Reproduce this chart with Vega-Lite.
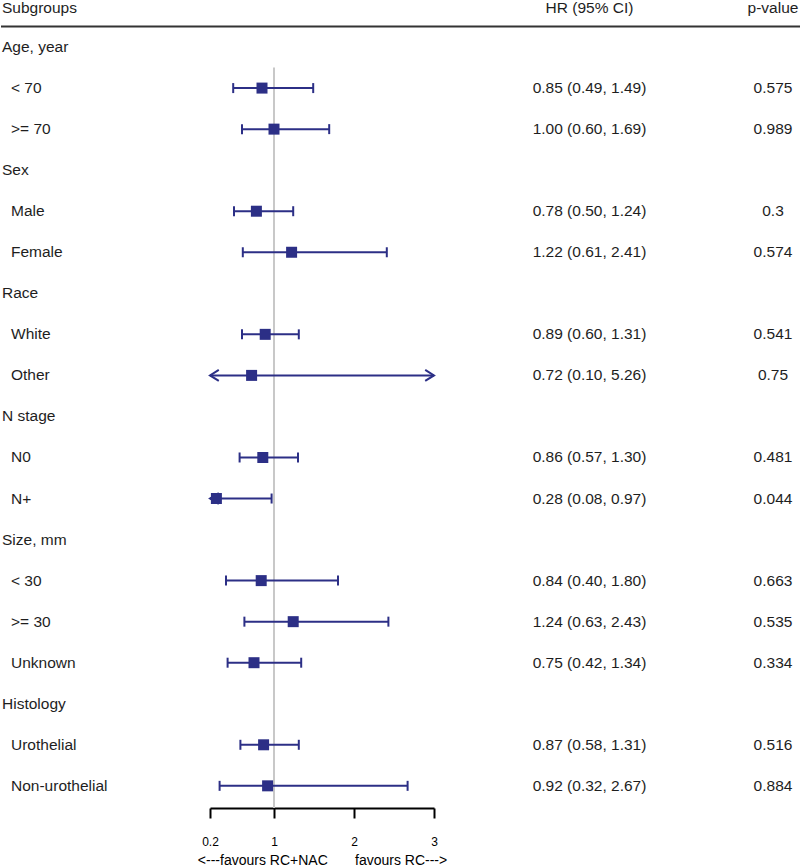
{
  "$schema": "https://vega.github.io/schema/vega-lite/v6.json",
  "padding": 0,
  "background": "white",
  "spacing": 0,
  "bounds": "flush",
  "config": {
    "view": {"stroke": null},
    "font": "Liberation Sans",
    "text": {"fontSize": 15.5, "color": "#1e1e1e"}
  },
  "datasets": {
    "rows": [
      {"row": 0, "label": "Subgroups", "level": "header", "hrci": "HR (95% CI)", "p": "p-value"},
      {"row": 1, "label": "Age, year", "level": "group"},
      {"row": 2, "label": "< 70", "level": "item", "hr": 0.85, "lo": 0.49, "hi": 1.49, "p": "0.575"},
      {"row": 3, "label": ">= 70", "level": "item", "hr": 1.00, "lo": 0.60, "hi": 1.69, "p": "0.989"},
      {"row": 4, "label": "Sex", "level": "group"},
      {"row": 5, "label": "Male", "level": "item", "hr": 0.78, "lo": 0.50, "hi": 1.24, "p": "0.3"},
      {"row": 6, "label": "Female", "level": "item", "hr": 1.22, "lo": 0.61, "hi": 2.41, "p": "0.574"},
      {"row": 7, "label": "Race", "level": "group"},
      {"row": 8, "label": "White", "level": "item", "hr": 0.89, "lo": 0.60, "hi": 1.31, "p": "0.541"},
      {"row": 9, "label": "Other", "level": "item", "hr": 0.72, "lo": 0.10, "hi": 5.26, "p": "0.75"},
      {"row": 10, "label": "N stage", "level": "group"},
      {"row": 11, "label": "N0", "level": "item", "hr": 0.86, "lo": 0.57, "hi": 1.30, "p": "0.481"},
      {"row": 12, "label": "N+", "level": "item", "hr": 0.28, "lo": 0.08, "hi": 0.97, "p": "0.044"},
      {"row": 13, "label": "Size, mm", "level": "group"},
      {"row": 14, "label": "< 30", "level": "item", "hr": 0.84, "lo": 0.40, "hi": 1.80, "p": "0.663"},
      {"row": 15, "label": ">= 30", "level": "item", "hr": 1.24, "lo": 0.63, "hi": 2.43, "p": "0.535"},
      {"row": 16, "label": "Unknown", "level": "item", "hr": 0.75, "lo": 0.42, "hi": 1.34, "p": "0.334"},
      {"row": 17, "label": "Histology", "level": "group"},
      {"row": 18, "label": "Urothelial", "level": "item", "hr": 0.87, "lo": 0.58, "hi": 1.31, "p": "0.516"},
      {"row": 19, "label": "Non-urothelial", "level": "item", "hr": 0.92, "lo": 0.32, "hi": 2.67, "p": "0.884"}
    ]
  },
  "hconcat": [
    {
      "width": 209,
      "height": 808,
      "data": {"name": "rows"},
      "encoding": {
        "y": {"field": "row", "type": "quantitative", "scale": {"domain": [-0.146, 19.54], "reverse": true, "nice": false, "zero": false}, "axis": null}
      },
      "layer": [
        {
          "transform": [{"filter": "datum.level === 'header'"}],
          "mark": {"type": "text", "align": "left", "baseline": "middle", "x": 0, "dx": 1, "dy": 2},
          "encoding": {"text": {"field": "label"}}
        },
        {
          "transform": [{"filter": "datum.level === 'group'"}],
          "mark": {"type": "text", "align": "left", "baseline": "middle", "x": 0, "dx": 1},
          "encoding": {"text": {"field": "label"}}
        },
        {
          "transform": [{"filter": "datum.level === 'item'"}],
          "mark": {"type": "text", "align": "left", "baseline": "middle", "x": 0, "dx": 10},
          "encoding": {"text": {"field": "label"}}
        },
        {
          "transform": [{"filter": "datum.level === 'header'"}],
          "mark": {"type": "rule", "color": "#333333", "strokeWidth": 2},
          "encoding": {"y": {"datum": 0.5, "type": "quantitative"}}
        }
      ]
    },
    {
      "width": 224,
      "height": 808,
      "data": {"name": "rows"},
      "encoding": {
        "y": {"field": "row", "type": "quantitative", "scale": {"domain": [-0.146, 19.54], "reverse": true, "nice": false, "zero": false}, "axis": null}
      },
      "layer": [
        {
          "transform": [{"filter": "datum.level === 'header'"}],
          "mark": {"type": "rule", "color": "#c8c8c8", "strokeWidth": 2},
          "encoding": {
            "x": {"datum": 1, "type": "quantitative", "scale": {"domain": [0.2, 3], "clamp": true, "nice": false, "zero": false},
              "axis": {
                "values": [0.2, 1, 2, 3],
                "format": "~g",
                "title": "<---favours RC+NAC\u00a0\u00a0\u00a0\u00a0\u00a0\u00a0\u00a0favours RC--->",
                "grid": false,
                "labelFlush": false,
                "domainColor": "black",
                "domainWidth": 2,
                "tickColor": "black",
                "tickWidth": 2,
                "tickSize": 10,
                "labelFontSize": 12,
                "labelPadding": 18,
                "labelColor": "black",
                "titleFontSize": 14,
                "titleFontWeight": "normal",
                "titleColor": "black",
                "titlePadding": 6
              }
            },
            "y": {"datum": 1.5, "type": "quantitative"},
            "y2": {"datum": 19.54}
          }
        },
        {
          "transform": [{"filter": "datum.level === 'header'"}],
          "mark": {"type": "rule", "color": "#333333", "strokeWidth": 2},
          "encoding": {"y": {"datum": 0.5, "type": "quantitative"}}
        },
        {
          "transform": [{"filter": "isValid(datum.hr)"}],
          "mark": {"type": "rule", "color": "#2c2f86", "strokeWidth": 2},
          "encoding": {"x": {"field": "lo", "type": "quantitative"}, "x2": {"field": "hi"}}
        },
        {
          "transform": [{"filter": "isValid(datum.hr) && datum.lo >= 0.2"}],
          "mark": {"type": "tick", "orient": "vertical", "color": "#2c2f86", "thickness": 2, "size": 10, "opacity": 1},
          "encoding": {"x": {"field": "lo", "type": "quantitative"}}
        },
        {
          "transform": [{"filter": "isValid(datum.hr) && datum.hi <= 3"}],
          "mark": {"type": "tick", "orient": "vertical", "color": "#2c2f86", "thickness": 2, "size": 10, "opacity": 1},
          "encoding": {"x": {"field": "hi", "type": "quantitative"}}
        },
        {
          "transform": [{"filter": "isValid(datum.hr) && datum.lo < 0.2"}],
          "mark": {"type": "point", "shape": "M1.6,-1L0,0L1.6,1", "filled": false, "stroke": "#2c2f86", "strokeWidth": 2, "size": 121, "opacity": 1},
          "encoding": {"x": {"field": "lo", "type": "quantitative"}}
        },
        {
          "transform": [{"filter": "isValid(datum.hr) && datum.hi > 3"}],
          "mark": {"type": "point", "shape": "M-1.6,-1L0,0L-1.6,1", "filled": false, "stroke": "#2c2f86", "strokeWidth": 2, "size": 121, "opacity": 1},
          "encoding": {"x": {"field": "hi", "type": "quantitative"}}
        },
        {
          "transform": [{"filter": "isValid(datum.hr)"}],
          "mark": {"type": "point", "shape": "square", "filled": true, "color": "#2c2f86", "size": 121, "opacity": 1},
          "encoding": {"x": {"field": "hr", "type": "quantitative"}}
        }
      ]
    },
    {
      "width": 311,
      "height": 808,
      "data": {"name": "rows"},
      "encoding": {
        "y": {"field": "row", "type": "quantitative", "scale": {"domain": [-0.146, 19.54], "reverse": true, "nice": false, "zero": false}, "axis": null}
      },
      "layer": [
        {
          "transform": [{"filter": "datum.level === 'header'"}],
          "mark": {"type": "text", "baseline": "middle", "dy": 2},
          "encoding": {"text": {"field": "hrci"}}
        },
        {
          "transform": [{"filter": "datum.level === 'header'"}],
          "mark": {"type": "rule", "color": "#333333", "strokeWidth": 2},
          "encoding": {"y": {"datum": 0.5, "type": "quantitative"}}
        },
        {
          "transform": [
            {"filter": "isValid(datum.hr)"},
            {"calculate": "format(datum.hr, '.2f') + ' (' + format(datum.lo, '.2f') + ', ' + format(datum.hi, '.2f') + ')'", "as": "ci"}
          ],
          "mark": {"type": "text", "baseline": "middle"},
          "encoding": {"text": {"field": "ci"}}
        }
      ]
    },
    {
      "width": 56,
      "height": 808,
      "data": {"name": "rows"},
      "encoding": {
        "y": {"field": "row", "type": "quantitative", "scale": {"domain": [-0.146, 19.54], "reverse": true, "nice": false, "zero": false}, "axis": null}
      },
      "layer": [
        {
          "transform": [{"filter": "datum.level === 'header'"}],
          "mark": {"type": "text", "baseline": "middle", "dy": 2},
          "encoding": {"text": {"field": "p", "type": "nominal"}}
        },
        {
          "transform": [{"filter": "isValid(datum.hr)"}],
          "mark": {"type": "text", "baseline": "middle"},
          "encoding": {"text": {"field": "p", "type": "nominal"}}
        },
        {
          "transform": [{"filter": "datum.level === 'header'"}],
          "mark": {"type": "rule", "color": "#333333", "strokeWidth": 2},
          "encoding": {"y": {"datum": 0.5, "type": "quantitative"}}
        }
      ]
    }
  ]
}
